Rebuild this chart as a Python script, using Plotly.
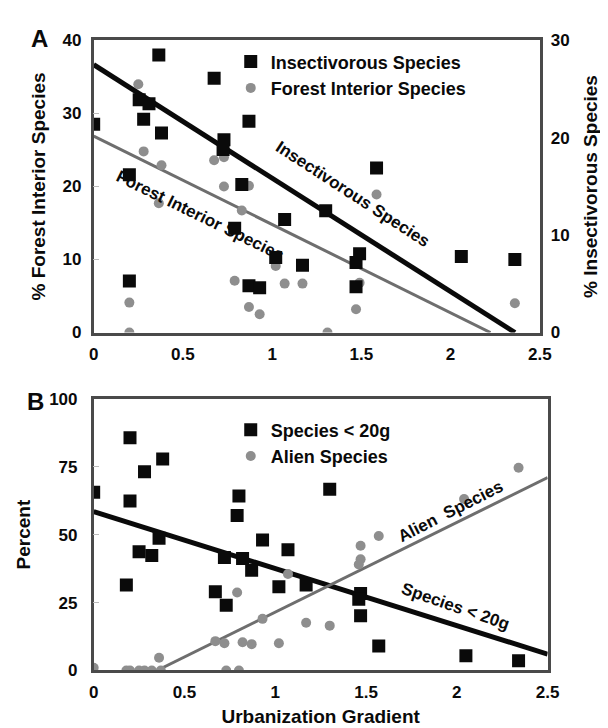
import plotly.graph_objects as go

# ---------------- Panel A data ----------------
urb_insect = [0.0, 0.365, 0.675, 0.255, 0.31, 0.28, 0.38, 0.73, 0.725, 0.87, 0.20, 0.83, 0.20,
              0.79, 1.07, 1.02, 1.17, 0.87, 0.93, 1.30, 1.49, 1.47, 1.47, 1.585, 2.06, 2.36]
pct_insect = [21.4, 28.5, 26.1, 23.9, 23.5, 21.9, 20.5, 19.8, 18.8, 21.7, 16.2, 15.2, 5.3,
              10.7, 11.6, 7.7, 6.9, 4.8, 4.6, 12.5, 8.1, 7.2, 4.7, 16.9, 7.8, 7.5]

urb_forest = [0.0, 0.25, 0.32, 0.28, 0.38, 0.675, 0.73, 0.73, 0.87, 0.365, 0.83, 0.20, 0.20,
              0.79, 1.02, 1.07, 1.17, 0.87, 0.93, 1.585, 1.49, 1.47, 1.31, 2.06, 2.36]
pct_forest = [28.5, 34.0, 31.3, 24.8, 22.9, 23.6, 24.0, 20.0, 20.1, 17.7, 16.7, 4.1, 0.0,
              7.1, 9.1, 6.7, 6.7, 3.5, 2.5, 18.9, 6.8, 3.2, 0.0, 10.4, 4.0]

# fitted lines (intercept, slope)
insect_fit = (27.5, -11.65)
forest_fit = (26.9, -12.1)

# ---------------- Panel B data ----------------
urb_small = [0.0, 0.20, 0.20, 0.28, 0.38, 0.36, 0.25, 0.32, 0.18, 0.80, 0.79, 0.93, 1.07, 0.72,
             0.82, 0.87, 0.67, 0.73, 1.02, 1.17, 1.30, 1.47, 1.46, 1.47, 1.57, 2.05, 2.34]
pct_small = [65.6, 85.7, 62.4, 73.1, 77.8, 48.7, 43.7, 42.3, 31.5, 64.2, 57.0, 48.0, 44.4, 41.6,
             41.2, 36.9, 29.0, 24.0, 30.8, 31.5, 66.7, 28.3, 26.2, 20.1, 9.0, 5.4, 3.6]

urb_alien = [0.0, 0.18, 0.20, 0.25, 0.28, 0.32, 0.37, 0.36, 0.67, 0.72, 0.79, 0.82, 0.87, 0.73,
             0.80, 0.93, 1.02, 1.07, 1.17, 1.30, 1.47, 1.47, 1.46, 1.57, 2.04, 2.34]
pct_alien = [1.0, 0.0, 0.0, 0.0, 0.0, 0.0, 0.0, 4.7, 10.8, 10.0, 28.7, 10.4, 9.7, 0.0,
             0.0, 19.0, 10.0, 35.5, 17.6, 16.5, 45.9, 40.9, 39.0, 49.5, 63.1, 74.6]

small_fit = (58.5, -21.0)
alien_fit = (-11.5, 33.0)

W, H = 608, 728
FONT = "Liberation Sans, Arial, sans-serif"
BLACK = "#0a0a0a"
GRAY = "#8e8e8e"
AXC = "#4a4a4a"


def px(x):
    return x / W


def py(y):
    return 1 - y / H


def line_pts(fit, x0, x1):
    b, m = fit
    return [x0, x1], [b + m * x0, b + m * x1]


fig = go.Figure()

# Panel A lines
xi, yi = line_pts(insect_fit, 0, -insect_fit[0] / insect_fit[1])
fig.add_trace(go.Scatter(x=xi, y=yi, mode="lines", line=dict(color=BLACK, width=5),
                         xaxis="x", yaxis="y2", showlegend=False, hoverinfo="skip"))
xf, yf = line_pts(forest_fit, 0, -forest_fit[0] / forest_fit[1])
fig.add_trace(go.Scatter(x=xf, y=yf, mode="lines", line=dict(color="#6e6e6e", width=3),
                         xaxis="x", yaxis="y", showlegend=False, hoverinfo="skip"))

fig.add_trace(go.Scatter(x=urb_insect, y=pct_insect, mode="markers",
                         name="<b>Insectivorous Species</b>",
                         marker=dict(symbol="square", size=13, color=BLACK),
                         xaxis="x", yaxis="y2", legend="legend", legendrank=1))
fig.add_trace(go.Scatter(x=urb_forest, y=pct_forest, mode="markers",
                         name="<b>Forest Interior Species</b>",
                         marker=dict(symbol="circle", size=10, color=GRAY),
                         xaxis="x", yaxis="y", legend="legend", legendrank=2))

# Panel B lines
xs, ys = line_pts(small_fit, 0, 2.5)
fig.add_trace(go.Scatter(x=xs, y=ys, mode="lines", line=dict(color=BLACK, width=5),
                         xaxis="x2", yaxis="y3", showlegend=False, hoverinfo="skip"))
xa, ya = line_pts(alien_fit, -alien_fit[0] / alien_fit[1], 2.5)
fig.add_trace(go.Scatter(x=xa, y=ya, mode="lines", line=dict(color="#6e6e6e", width=3),
                         xaxis="x2", yaxis="y3", showlegend=False, hoverinfo="skip"))

fig.add_trace(go.Scatter(x=urb_alien, y=pct_alien, mode="markers", name="<b>Alien Species</b>",
                         marker=dict(symbol="circle", size=10, color=GRAY),
                         xaxis="x2", yaxis="y3", legend="legend2", legendrank=2))
fig.add_trace(go.Scatter(x=urb_small, y=pct_small, mode="markers", name="<b>Species &lt; 20g</b>",
                         marker=dict(symbol="square", size=13, color=BLACK),
                         xaxis="x2", yaxis="y3", legend="legend2", legendrank=1))

tickfont = dict(family=FONT, size=17, color=BLACK)
titlefont = dict(family=FONT, size=19, color=BLACK)

common_x = dict(range=[0, 2.5], tickvals=[0, 0.5, 1, 1.5, 2, 2.5],
                ticktext=["<b>0</b>", "<b>0.5</b>", "<b>1</b>", "<b>1.5</b>", "<b>2</b>", "<b>2.5</b>"],
                showgrid=False, zeroline=False, showline=True, mirror=True,
                linecolor=AXC, linewidth=2.5, ticks="", tickfont=tickfont,
                ticklabelstandoff=4)

legfont = dict(family=FONT, size=18, color=BLACK)

fig.update_layout(
    width=W, height=H,
    margin=dict(l=0, r=0, t=0, b=0),
    paper_bgcolor="white", plot_bgcolor="white",
    font=dict(family=FONT, color=BLACK),
    xaxis=dict(domain=[px(83), px(542)], anchor="y", **common_x),
    yaxis=dict(domain=[py(324), py(24)], anchor="x", range=[0, 40], tickvals=[0, 10, 20, 30, 40],
               ticktext=["<b>0</b>", "<b>10</b>", "<b>20</b>", "<b>30</b>", "<b>40</b>"],
               showgrid=False, zeroline=False, showline=True, mirror=True, linecolor=AXC,
               linewidth=2.5, ticks="inside", ticklen=6, tickcolor="#bbbbbb", tickfont=tickfont,
               ticklabelstandoff=6,
               title=dict(text="<b>% Forest Interior Species</b>", font=titlefont, standoff=12)),
    yaxis2=dict(overlaying="y", side="right", anchor="x", range=[0, 30], tickvals=[0, 10, 20, 30],
                ticktext=["<b>0</b>", "<b>10</b>", "<b>20</b>", "<b>30</b>"],
                showgrid=False, zeroline=False, showline=False, ticks="", tickfont=tickfont,
                ticklabelstandoff=10,
                title=dict(text="<b>% Insectivorous Species</b>", font=titlefont, standoff=14)),
    xaxis2=dict(domain=[px(83), px(550)], anchor="y3",
                title=dict(text="<b>Urbanization Gradient</b>", font=titlefont, standoff=10),
                **common_x),
    yaxis3=dict(domain=[py(671), py(392)], anchor="x2", range=[0, 100], tickvals=[0, 25, 50, 75, 100],
                ticktext=["<b>0</b>", "<b>25</b>", "<b>50</b>", "<b>75</b>", "<b>100</b>"],
                showgrid=False, zeroline=False, showline=True, mirror=True, linecolor=AXC,
                linewidth=2.5, ticks="inside", ticklen=6, tickcolor="#bbbbbb", tickfont=tickfont,
                ticklabelstandoff=10,
                title=dict(text="<b>Percent</b>", font=titlefont, standoff=14)),
    legend=dict(x=px(224), y=py(27), xanchor="left", yanchor="top", bgcolor="rgba(0,0,0,0)",
                font=legfont, traceorder="normal", itemwidth=30, tracegroupgap=0),
    legend2=dict(x=px(224), y=py(405), xanchor="left", yanchor="top", bgcolor="rgba(0,0,0,0)",
                 font=legfont, traceorder="normal", itemwidth=30, tracegroupgap=0),
)

ann = [
    dict(text="<b>A</b>", x=px(27), y=py(22), size=24, angle=0),
    dict(text="<b>B</b>", x=px(23), y=py(395), size=24, angle=0),
    dict(text="<b>Insectivorous Species</b>", x=px(350), y=py(182), size=17, angle=33),
    dict(text="<b>Forest Interior Species</b>", x=px(192), y=py(204), size=17, angle=26),
    dict(text="<b>Alien  Species</b>", x=px(450), y=py(508), size=17, angle=-27),
    dict(text="<b>Species &lt; 20g</b>", x=px(455), y=py(605), size=17, angle=19),
]
for a in ann:
    fig.add_annotation(text=a["text"], x=a["x"], y=a["y"], xref="paper", yref="paper",
                       xanchor="center", yanchor="middle", showarrow=False, textangle=a["angle"],
                       font=dict(family=FONT, size=a["size"], color=BLACK))

fig.write_html("out.html")
